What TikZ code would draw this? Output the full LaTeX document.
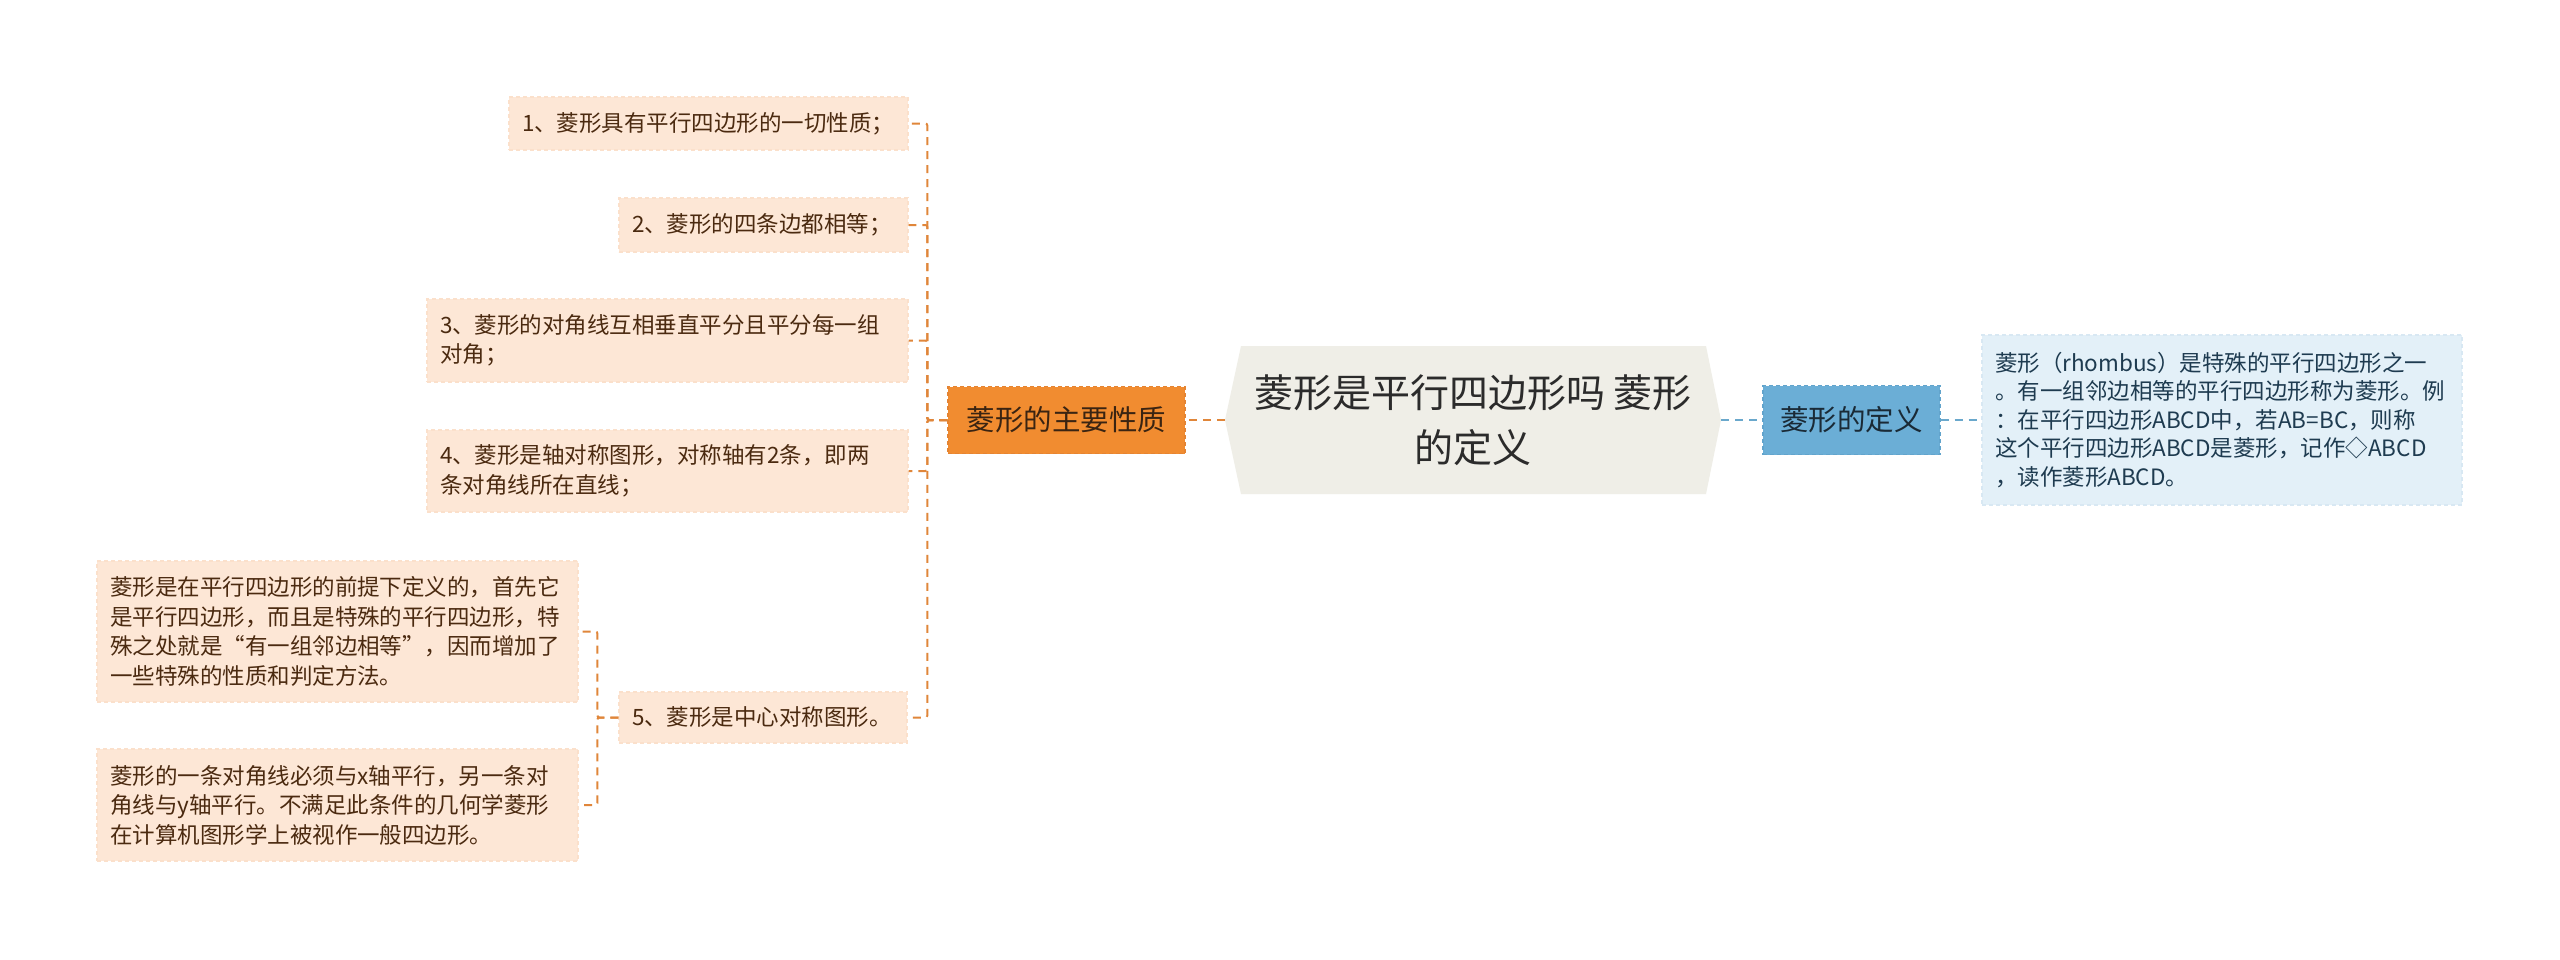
\documentclass[tikz,border=0pt]{standalone}
\usepackage{fontspec}
\setmainfont{Noto Sans CJK SC}
\usetikzlibrary{calc}
\definecolor{rootfill}{HTML}{EFEEE7}
\definecolor{roottext}{HTML}{2B2B2B}
\definecolor{orangefill}{HTML}{F18C30}
\definecolor{orangeborder}{HTML}{E48433}
\definecolor{orangetext}{HTML}{3A2412}
\definecolor{orangeline}{HTML}{E0863A}
\definecolor{leaffill}{HTML}{FDE7D6}
\definecolor{leafborder}{HTML}{FBE0CB}
\definecolor{leaftext}{HTML}{4B2A10}
\definecolor{bluefill}{HTML}{6BAED6}
\definecolor{blueborder}{HTML}{62A4CC}
\definecolor{bluetext}{HTML}{1A2A36}
\definecolor{blueline}{HTML}{6AA8CC}
\definecolor{detailfill}{HTML}{E3F0F8}
\definecolor{detailborder}{HTML}{D8E8F3}
\definecolor{detailtext}{HTML}{1E3B50}
\begin{document}
\begin{tikzpicture}[x=1pt,y=-1pt,
  rootnode/.style={inner sep=0pt, align=center, text=roottext,
    font=\fontsize{39pt}{55pt}\selectfont, minimum width=496pt, minimum height=148pt},
  mainorange/.style={fill=orangefill, draw=orangeborder, line width=1.3pt,
    dash pattern=on 4pt off 3pt, text=orangetext, inner sep=0pt,
    font=\fontsize{28.5pt}{34pt}\selectfont},
  mainblue/.style={fill=bluefill, draw=blueborder, line width=1.3pt,
    dash pattern=on 4pt off 3pt, text=bluetext, inner sep=0pt,
    font=\fontsize{28.5pt}{34pt}\selectfont},
  leaf/.style={fill=leaffill, draw=leafborder, line width=1.2pt,
    dash pattern=on 4pt off 3pt, text=leaftext, inner xsep=13pt, inner ysep=0pt,
    align=left, font=\fontsize{22.5pt}{29.5pt}\selectfont},
  detail/.style={fill=detailfill, draw=detailborder, line width=1.2pt,
    dash pattern=on 4pt off 3pt, text=detailtext, inner xsep=13pt, inner ysep=0pt,
    align=left, font=\fontsize{22.5pt}{28.5pt}\selectfont},
  oconn/.style={draw=orangeline, line width=2pt, dash pattern=on 8pt off 6pt, rounded corners=2pt},
  bconn/.style={draw=blueline, line width=2pt, dash pattern=on 8pt off 6pt}
]
\useasboundingbox (0,0) rectangle (2560,959);
\fill[white] (0,0) rectangle (2560,959);

% root hexagon
\fill[rootfill] (1225,420) -- (1241,346) -- (1706,346) -- (1721,420) -- (1706,494) -- (1241,494) -- cycle;
\node[rootnode] (root) at (1473,420) {菱形是平行四边形吗 菱形\\的定义};

% main branches
\node[mainorange, minimum width=237pt, minimum height=67pt] (props) at (1066.5,420) {菱形的主要性质};
\node[mainblue, minimum width=177pt, minimum height=69pt] (defn) at (1851.5,420) {菱形的定义};

% definition detail
\node[detail, text width=454pt, minimum height=170pt] (detailbox) at (2222,420)
  {菱形（rhombus）是特殊的平行四边形之一\\。有一组邻边相等的平行四边形称为菱形。例\\：在平行四边形ABCD中，若AB=BC，则称\\这个平行四边形ABCD是菱形，记作◇ABCD\\，读作菱形ABCD。};

% property items
\node[leaf, text width=373pt, minimum height=53pt] (i1) at (708.5,123.5) {1、菱形具有平行四边形的一切性质；};
\node[leaf, text width=263pt, minimum height=54pt] (i2) at (763.5,225) {2、菱形的四条边都相等；};
\node[leaf, text width=455pt, minimum height=83pt] (i3) at (667.5,340.5) {3、菱形的对角线互相垂直平分且平分每一组\\对角；};
\node[leaf, text width=455pt, minimum height=82pt] (i4) at (667.5,471) {4、菱形是轴对称图形，对称轴有2条，即两\\条对角线所在直线；};
\node[leaf, text width=262pt, minimum height=51pt] (i5) at (763,717.5) {5、菱形是中心对称图形。};

% sub items of 5
\node[leaf, text width=455pt, minimum height=141pt] (s1) at (337.5,631.5)
  {菱形是在平行四边形的前提下定义的，首先它\\是平行四边形，而且是特殊的平行四边形，特\\殊之处就是“有一组邻边相等”，因而增加了\\一些特殊的性质和判定方法。};
\node[leaf, text width=455pt, minimum height=112pt] (s2) at (337.5,805)
  {菱形的一条对角线必须与x轴平行，另一条对\\角线与y轴平行。不满足此条件的几何学菱形\\在计算机图形学上被视作一般四边形。};

% connectors
\draw[oconn] (root.west) -- (props.east);
\draw[bconn] (root.east) -- (defn.west);
\draw[bconn] (defn.east) -- (detailbox.west);
\foreach \n in {i1,i2,i3,i4,i5}{
  \draw[oconn] (props.west) -- ++(-20,0) |- (\n.east);
}
\foreach \n in {s1,s2}{
  \draw[oconn] (i5.west) -- ++(-21,0) |- (\n.east);
}
\end{tikzpicture}
\end{document}
